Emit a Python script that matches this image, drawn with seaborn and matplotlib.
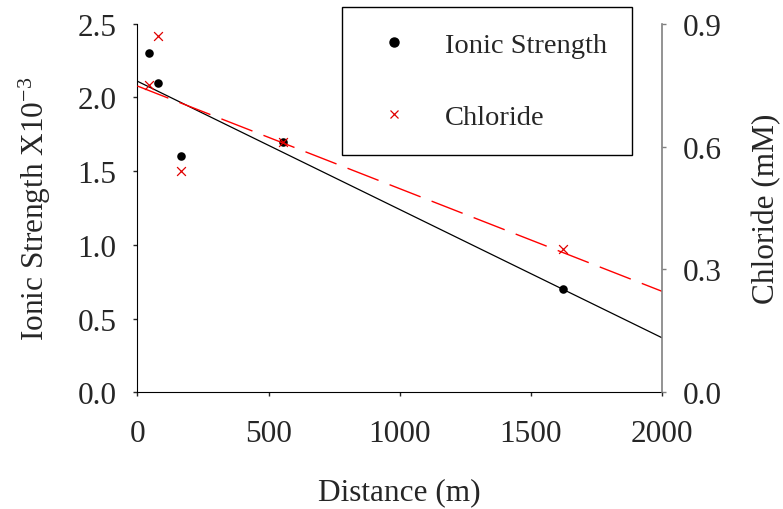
import numpy as np
import pandas as pd
import matplotlib
matplotlib.use("Agg")
import matplotlib.pyplot as plt
import seaborn as sns
from matplotlib.lines import Line2D

distance = [46, 80, 166, 555, 1624]
ionic_strength = [2.3, 2.1, 1.6, 1.7, 0.7]
chloride = [0.75, 0.87, 0.54, 0.61, 0.35]
x_ticks = [0, 500, 1000, 1500, 2000]
left_ticks = [0.0, 0.5, 1.0, 1.5, 2.0, 2.5]
right_ticks = [0.0, 0.3, 0.6, 0.9]

df = pd.DataFrame({"Distance": distance, "IS": ionic_strength, "Cl": chloride})

sns.set_style("ticks")
plt.rcParams["font.family"] = ["Liberation Serif", "DejaVu Serif"]
plt.rcParams["mathtext.fontset"] = "custom"
plt.rcParams["mathtext.rm"] = "Liberation Serif"
plt.rcParams["mathtext.it"] = "Liberation Serif:italic"

fig = plt.figure(figsize=(7.83, 5.10), dpi=100)
ax = fig.add_axes([0.1754, 0.2288, 0.6701, 0.7228])
ax2 = ax.twinx()

ax.set_xlim(0, 2000)
ax.set_ylim(0, 2.5)
ax2.set_ylim(0, 0.9)

sns.regplot(data=df, x="Distance", y="IS", ax=ax, scatter=False, ci=None,
            truncate=False, line_kws=dict(color="black", lw=0.9))
sns.scatterplot(data=df, x="Distance", y="IS", ax=ax, color="black",
                marker="o", s=38, edgecolor="black", linewidth=0, zorder=5)

sns.regplot(data=df, x="Distance", y="Cl", ax=ax2, scatter=False, ci=None,
            truncate=False, line_kws=dict(color="#ff0000", lw=1.0, dashes=(24, 8.5)))
sns.scatterplot(data=df, x="Distance", y="Cl", ax=ax2, color="#e00000",
                marker="x", s=40, linewidth=0.9, zorder=5)

ax.set_xlim(0, 2000)
ax.set_ylim(0, 2.5)
ax2.set_ylim(0, 0.9)

ax.set_xticks(x_ticks)
ax.set_yticks(left_ticks)
ax.set_yticklabels([f"{v:.1f}" for v in left_ticks])
ax2.set_yticks(right_ticks)
ax2.set_yticklabels([f"{v:.1f}" for v in right_ticks])

for a in (ax, ax2):
    a.tick_params(labelsize=22.5, length=3, width=1, direction="out", pad=12)
ax.tick_params(axis="x", pad=16)
ax2.tick_params(color="#808080")

ax.set_xlabel("Distance (m)", fontsize=22.5, labelpad=21.5)
ax.set_ylabel("Ionic Strength X10$^{-3}$", fontsize=22.5, labelpad=18)
ax2.set_ylabel("Chloride (mM)", fontsize=22.5, labelpad=21.5)

for a in (ax, ax2):
    a.spines["top"].set_visible(False)
ax.spines["right"].set_visible(False)
ax2.spines["left"].set_visible(False)
ax2.spines["bottom"].set_visible(False)
ax2.spines["right"].set_color("#808080")
ax2.spines["right"].set_linewidth(1.2)
ax.spines["left"].set_color("black")
ax.spines["bottom"].set_color("black")

handles = [
    Line2D([], [], ls="none", marker="o", color="black", markersize=6.5),
    Line2D([], [], ls="none", marker="x", color="#e00000", markersize=6, markeredgewidth=0.9),
]
leg = fig.legend(handles, ["Ionic Strength", "Chloride"], loc="upper left",
                 bbox_to_anchor=(0.4368, 0.9837), bbox_transform=fig.transFigure,
                 fontsize=20.5, frameon=True, fancybox=False, edgecolor="black",
                 framealpha=1, borderpad=0.875, labelspacing=1.6,
                 handlelength=1.9, handletextpad=0.84, borderaxespad=0)
leg.get_frame().set_linewidth(1.0)

fig.savefig("out.png", dpi=100)
